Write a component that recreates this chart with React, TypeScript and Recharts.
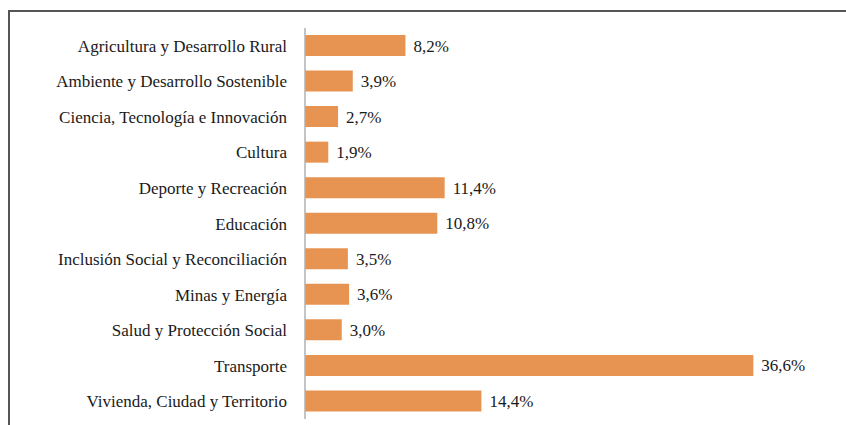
import React from 'react'
import { BarChart, Bar, XAxis, YAxis, LabelList } from 'recharts'

const categories = [
  'Agricultura y Desarrollo Rural',
  'Ambiente y Desarrollo Sostenible',
  'Ciencia, Tecnología e Innovación',
  'Cultura',
  'Deporte y Recreación',
  'Educación',
  'Inclusión Social y Reconciliación',
  'Minas y Energía',
  'Salud y Protección Social',
  'Transporte',
  'Vivienda, Ciudad y Territorio',
]

const shares = [8.2, 3.9, 2.7, 1.9, 11.4, 10.8, 3.5, 3.6, 3.0, 36.6, 14.4]

const data = categories.map((name, i) => ({ name, value: shares[i] }))

const font = "'Liberation Serif', 'Times New Roman', serif"

const fmt = (v: any) => `${Number(v).toFixed(1).replace('.', ',')}%`

const App = () => {
  return (
    <div
      style={{
        position: 'absolute',
        left: 0,
        top: 0,
        width: 846,
        height: 425,
        overflow: 'hidden',
        background: '#fff',
        fontFamily: font,
      }}
    >
      {/* frame of the original figure, cut off on right and bottom */}
      <div
        style={{
          position: 'absolute',
          left: 8,
          top: 10,
          width: 846,
          height: 425,
          borderTop: '2px solid #555',
          borderLeft: '2px solid #555',
        }}
      />
      <div style={{ position: 'absolute', left: 0, top: 0 }}>
        <BarChart
          width={846}
          height={425}
          data={data}
          layout="vertical"
          margin={{ top: 28, right: 51, bottom: 6, left: 0 }}
          style={{ fontFamily: font }}
        >
          <XAxis type="number" domain={[0, 40]} hide />
          <YAxis
            type="category"
            dataKey="name"
            width={305}
            tickLine={false}
            tickSize={0}
            tickMargin={18}
            axisLine={{ stroke: '#b0b0b0', strokeWidth: 1.5 }}
            tick={{ fill: '#1a1a1a', fontSize: 17, fontFamily: font }}
            interval={0}
          />
          <Bar dataKey="value" fill="#E79453" barSize={21} isAnimationActive={false}>
            <LabelList
              dataKey="value"
              position="right"
              offset={8}
              formatter={fmt}
              fill="#1a1a1a"
              fontSize={17}
              fontFamily={font}
            />
          </Bar>
        </BarChart>
      </div>
    </div>
  )
}

export default App
